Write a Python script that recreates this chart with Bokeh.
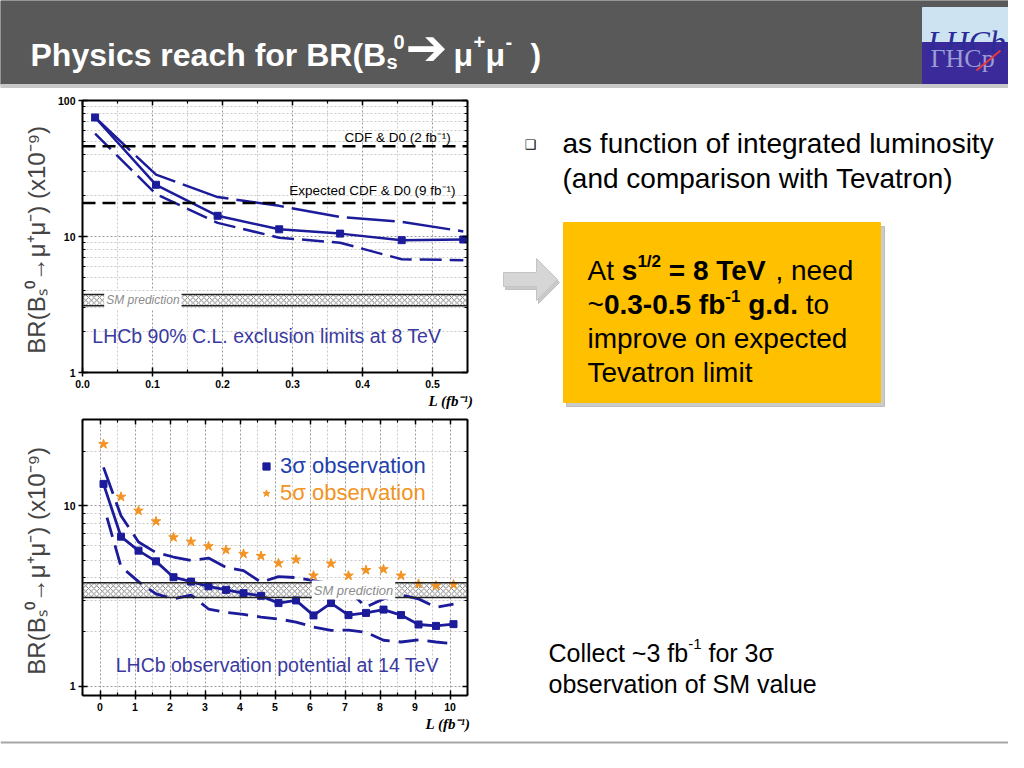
from bokeh.plotting import figure
from bokeh.layouts import column, row
from bokeh.models import (Range1d, FixedTicker, PrintfTickFormatter, LinearAxis, LogAxis,
                          Span, Label, Legend, LegendItem, Axis, Title)
from bokeh.core.properties import value
from bokeh.embed import file_html
from bokeh.resources import INLINE

# ---------------- data: upper panel, LHCb 90% CL exclusion limits at 8 TeV ----------------
lumi_8tev = [0.018, 0.105, 0.193, 0.281, 0.368, 0.456, 0.544]
limit_median_8tev = [75.0, 24.0, 14.2, 11.3, 10.5, 9.4, 9.5]
limit_upper_8tev = [75.0, 28.5, 19.5, 16.8, 13.9, 12.8, 10.9]
limit_lower_8tev = [57.0, 20.5, 12.6, 9.8, 9.0, 6.8, 6.7]
cdf_d0_2fb = 46.0
cdf_d0_9fb_expected = 17.6
sm_band = [3.1, 3.75]

# ---------------- data: lower panel, observation potential at 14 TeV ----------------
lumi_14tev = [0.1, 0.6, 1.1, 1.6, 2.1, 2.6, 3.1, 3.6, 4.1, 4.6, 5.1,
              5.6, 6.1, 6.6, 7.1, 7.6, 8.1, 8.6, 9.1, 9.6, 10.1]
obs3_median = [13.2, 6.74, 5.64, 4.92, 4.02, 3.80, 3.58, 3.42, 3.28, 3.17, 2.89,
               2.99, 2.47, 2.89, 2.48, 2.55, 2.66, 2.48, 2.20, 2.16, 2.21]
obs3_upper = [16.3, 8.8, 6.3, 5.5, 5.2, 4.97, 5.13, 4.56, 4.37, 3.77, 4.05,
              4.0, 3.85, 3.7, 3.4, 2.75, 3.05, 3.2, 3.05, 2.74, 2.85]
lumi_14tev_lower = [0.2, 0.6, 1.1, 1.6, 2.1, 2.6, 3.1, 3.6, 4.1, 4.6, 5.1,
                    5.6, 6.1, 6.6, 7.1, 7.6, 8.1, 8.6, 9.1, 9.6, 10.1]
obs3_lower = [8.6, 4.6, 3.8, 3.25, 3.05, 3.2, 2.68, 2.57, 2.5, 2.42, 2.36,
              2.27, 2.13, 2.04, 2.05, 1.99, 1.8, 1.76, 1.81, 1.76, 1.72]
obs5_median = [21.9, 11.2, 9.38, 8.19, 6.68, 6.32, 5.96, 5.69, 5.41, 5.27, 4.80,
               5.03, 4.10, 4.78, 4.10, 4.40, 4.45, 4.10, 3.69, 3.61, 3.66]

# ---------------- ticks ----------------
ticks_top_x = [0.0, 0.1, 0.2, 0.3, 0.4, 0.5]
minor_top_x = [0.05, 0.15, 0.25, 0.35, 0.45, 0.55]
ticks_bot_x = [0, 1, 2, 3, 4, 5, 6, 7, 8, 9, 10]
minor_bot_x = [-0.5, 0.5, 1.5, 2.5, 3.5, 4.5, 5.5, 6.5, 7.5, 8.5, 9.5, 10.5]
ticks_log = [1, 10, 100]
minor_log = [2, 3, 4, 5, 6, 7, 8, 9, 20, 30, 40, 50, 60, 70, 80, 90]

NAVY = "#1c1c9a"
ORANGE = "#f39322"
TEXTBLUE = "#3a3aa0"
SANS = "Liberation Sans"
YLABEL = "BR(B\u209b\u2070\u2192\u03bc\u207a\u03bc\u207b)  (x10\u207b\u2079)"
XLABEL = "L (fb\u207b\u00b9)"

HAS_PAD = "padding" in Label.properties()


def make_plot(w, h, xr, yr, borders, xticks, xminor, xfmt, ylab_standoff, xlab_offset):
    p = figure(width=w, height=h, x_range=Range1d(*xr), y_range=Range1d(*yr),
               y_axis_type="log", output_backend="svg", toolbar_location=None,
               min_border_left=borders[0], min_border_right=borders[1],
               min_border_top=borders[2], min_border_bottom=borders[3])
    p.background_fill_color = "white"
    p.border_fill_color = "white"
    p.outline_line_color = None
    xt = FixedTicker(ticks=xticks, minor_ticks=xminor)
    yt = FixedTicker(ticks=ticks_log, minor_ticks=minor_log)
    p.xaxis.ticker = xt
    p.yaxis.ticker = yt
    p.xgrid.ticker = xt
    p.ygrid.ticker = yt
    p.xaxis.formatter = PrintfTickFormatter(format=xfmt)
    p.yaxis.formatter = PrintfTickFormatter(format="%d")
    p.add_layout(LinearAxis(ticker=xt), "above")
    p.add_layout(LogAxis(ticker=yt), "right")
    for ax in list(p.xaxis) + list(p.yaxis):
        ax.axis_line_width = 2
        ax.axis_line_color = "black"
        ax.major_tick_line_width = 1.5
        ax.minor_tick_line_width = 1.2
        ax.major_label_text_font = SANS
        ax.major_label_text_font_style = "bold"
        ax.major_label_text_font_size = "10.5px"
        ax.major_label_text_color = "black"
        ax.major_label_standoff = 3
        ax.major_tick_in = 5
        ax.major_tick_out = 4
        ax.minor_tick_in = 3
        ax.minor_tick_out = 0
    for ax in p.above + p.right:
        if isinstance(ax, Axis):
            ax.major_label_text_font_size = "1px"
            ax.major_label_text_color = None
            ax.major_label_standoff = 0
            ax.major_tick_out = 0
    # x-axis title, right-aligned with the frame like the original
    p.add_layout(Title(text=XLABEL, align="right", offset=xlab_offset, standoff=0,
                       text_font="Liberation Serif", text_font_style="bold italic",
                       text_font_size="15px", text_color="black"), "below")
    ya = p.left[0]
    ya.axis_label = YLABEL
    ya.axis_label_text_font = SANS
    ya.axis_label_text_font_style = "normal"
    ya.axis_label_text_font_size = "24px"
    ya.axis_label_standoff = ylab_standoff
    for g in (p.xgrid, p.ygrid):
        g.grid_line_color = "#9a9a9a"
        g.grid_line_dash = "2 2"
        g.grid_line_width = 1
        g.minor_grid_line_color = "#c8c8c8"
        g.minor_grid_line_dash = "2 2"
    # SM prediction band (hatched), spanning the whole x range
    p.quad(left=[xr[0]], right=[xr[1]], bottom=[sm_band[0]], top=[sm_band[1]],
           fill_color="white", hatch_pattern="diagonal_cross", hatch_color="#6e6e6e",
           hatch_scale=5.5, hatch_weight=0.9, line_color=None)
    for v in sm_band:
        p.add_layout(Span(location=v, dimension="width", line_color="#222222", line_width=1.5))
    return p


def sm_label(p, x, size):
    kw = dict(x=x, y=(sm_band[0] * sm_band[1]) ** 0.5, text="SM prediction",
              text_font=SANS, text_font_style="italic", text_font_size=size,
              text_color="#8c8c8c", text_baseline="middle", background_fill_color="white")
    if HAS_PAD:
        kw["padding"] = 2
    p.add_layout(Label(**kw))


# ---------------- upper plot ----------------
top = make_plot(490, 324, (0, 0.55), (1, 100), (82, 23, 12, 40),
                ticks_top_x, minor_top_x, "%.1f", 5, -6)
top.line(lumi_8tev, limit_upper_8tev, line_color=NAVY, line_width=2.5, line_dash="48 8")
top.line(lumi_8tev, limit_lower_8tev, line_color=NAVY, line_width=2.5, line_dash="22 8")
top.line(lumi_8tev, limit_median_8tev, line_color=NAVY, line_width=2.5)
top.scatter(lumi_8tev, limit_median_8tev, marker="square", size=7, color=NAVY)
top.add_layout(Span(location=cdf_d0_2fb, dimension="width", line_color="black",
                    line_width=2.5, line_dash="13 7"))
top.add_layout(Span(location=cdf_d0_9fb_expected, dimension="width", line_color="black",
                    line_width=2.5, line_dash="13 7"))
top.add_layout(Label(x=0.526, y=53, text="CDF & D0 (2 fb\u207b\u00b9)", text_align="right",
                     text_baseline="middle", text_font=SANS, text_font_size="13.5px",
                     text_color="black"))
top.add_layout(Label(x=0.533, y=21.7, text="Expected CDF & D0 (9 fb\u207b\u00b9)",
                     text_align="right", text_baseline="middle", text_font=SANS,
                     text_font_size="13.5px", text_color="black"))
sm_label(top, 0.031, "12px")
top.add_layout(Label(x=0.014, y=1.85, text="LHCb 90% C.L. exclusion limits at 8 TeV",
                     text_baseline="middle", text_font=SANS, text_font_size="19.5px",
                     text_color=TEXTBLUE))

# ---------------- lower plot ----------------
bot = make_plot(490, 328, (-0.5, 10.5), (0.89, 30), (82, 17, 7, 45),
                ticks_bot_x, minor_bot_x, "%d", 11, -3)
bot.line(lumi_14tev, obs3_upper, line_color=NAVY, line_width=2.8, line_dash="28 9")
bot.line(lumi_14tev_lower, obs3_lower, line_color=NAVY, line_width=2.8, line_dash="20 9")
bot.line(lumi_14tev, obs3_median, line_color=NAVY, line_width=2.8)
sq = bot.scatter(lumi_14tev, obs3_median, marker="square", size=7, color=NAVY)
st = bot.scatter(lumi_14tev, obs5_median, marker="star", size=10, color=ORANGE)
sm_label(bot, 6.05, "13px")
bot.add_layout(Label(x=0.45, y=1.32, text="LHCb observation potential at 14 TeV",
                     text_baseline="middle", text_font=SANS, text_font_size="19.5px",
                     text_color=TEXTBLUE))
for item, loc, col in ((LegendItem(label="3\u03c3 observation", renderers=[sq]), (175, 216), "#1f3fae"),
                       (LegendItem(label="5\u03c3 observation", renderers=[st]), (175, 189), ORANGE)):
    bot.add_layout(Legend(items=[item], location=loc, label_text_font=SANS,
                          label_text_font_size="22px", label_text_color=col,
                          glyph_width=18, glyph_height=18, label_standoff=5,
                          padding=0, margin=0, spacing=0, border_line_color=None,
                          background_fill_alpha=0))


# ---------------- slide canvases ----------------
def canvas(w, h, x0, x1, ytop, ybot):
    p = figure(width=w, height=h, x_range=Range1d(x0, x1), y_range=Range1d(ybot, ytop),
               x_axis_type=None, y_axis_type=None, output_backend="svg",
               toolbar_location=None, min_border=0)
    p.outline_line_color = None
    p.background_fill_color = "white"
    p.border_fill_color = "white"
    return p


def txt(p, x, y, s, size, style="normal", color="black", font=SANS, align="left",
        baseline="alphabetic"):
    p.text(x=[x], y=[y], text=[s], text_font=value(font), text_font_size=value(f"{size}px"),
           text_font_style=value(style), text_color=color, text_align=align,
           text_baseline=baseline)


# title bar
head = canvas(1008, 88, 0, 1008, 0, 88)
head.quad(left=[0], right=[1008], top=[0], bottom=[84], color="#595959")
head.quad(left=[0], right=[1008], top=[84], bottom=[87], color="#c8c8c8")
W = "white"
txt(head, 30, 54, "Physics reach for BR(B", 32, "bold", W)
txt(head, 386, 61, "s", 20, "bold", W)
txt(head, 393, 41, "0", 20, "bold", W)
txt(head, 405, 47, "\u2794", 50, "bold", W, font="DejaVu Sans", baseline="middle")
txt(head, 453, 54, "\u03bc", 32, "bold", W)
txt(head, 473, 41, "+", 20, "bold", W)
txt(head, 485, 54, "\u03bc", 32, "bold", W)
txt(head, 505, 41, "-", 20, "bold", W)
txt(head, 530, 54, ")", 32, "bold", W)
# LHCb logo
head.quad(left=[922], right=[1008], top=[7], bottom=[42], color="#cde3f1")
head.quad(left=[922], right=[1008], top=[42], bottom=[83], color="#3a2a9a")
txt(head, 927, 41, "LHCb", 32, "italic", "#2b2b99", font="Liberation Serif")
txt(head, 930, 43, "\u0393HCp", 26, "normal", "#9c9cd6", font="Liberation Serif",
    baseline="top")
head.line([976, 1000], [70, 50], line_color="#e8383d", line_width=2)

# right-hand text panel
side = canvas(518, 652, 490, 1008, 88, 740)
txt(side, 524, 144, "\u2751", 13, font="DejaVu Sans")
txt(side, 562, 143, "as function of integrated luminosity", 28)
txt(side, 562, 178, "(and comparison with Tevatron)", 28)
side.patch([505, 538, 538, 559, 538, 538, 505], [275, 275, 261, 282, 303, 289, 289],
           color="#a6a6a6", alpha=0.6)
side.patch([503, 536, 536, 557, 536, 536, 503], [272, 272, 258, 279, 300, 286, 286],
           fill_color="#d6d6d6", line_color="#c4c4c4")
side.quad(left=[566], right=[884], top=[226], bottom=[406], color="#8c8c8c", alpha=0.45)
side.quad(left=[563], right=[880], top=[222], bottom=[402], color="#ffc000")
txt(side, 587, 270, "At", 28)
txt(side, 621.3, 270, "s", 28, "bold")
txt(side, 636.9, 261, "1/2", 17, "bold")
txt(side, 668.3, 270, "= 8 TeV", 28, "bold")
txt(side, 774.9, 270, ", need", 28)
txt(side, 587, 304, "~", 28)
txt(side, 603.4, 304, "0.3-0.5 fb", 28, "bold")
txt(side, 724.8, 295, "-1", 17, "bold")
txt(side, 747.7, 304, "g.d.", 28, "bold")
txt(side, 805.3, 304, "to", 28)
txt(side, 587, 338, "improve on expected", 28)
txt(side, 587, 372, "Tevatron limit", 28)
txt(side, 548, 652, "Collect ~3 fb", 25)
txt(side, 687.7, 643, "-1", 15)
txt(side, 708, 652, "for 3\u03c3", 25)
txt(side, 548, 683, "observation of SM value", 25)

# footer rule
foot = canvas(1008, 12, 0, 1008, 740, 752)
foot.line([0, 1008], [742, 742], line_color="#a6a6a6", line_width=2)

layout = column(head, row(column(top, bot), side), foot)
open("out.html", "w").write(file_html(layout, INLINE))
